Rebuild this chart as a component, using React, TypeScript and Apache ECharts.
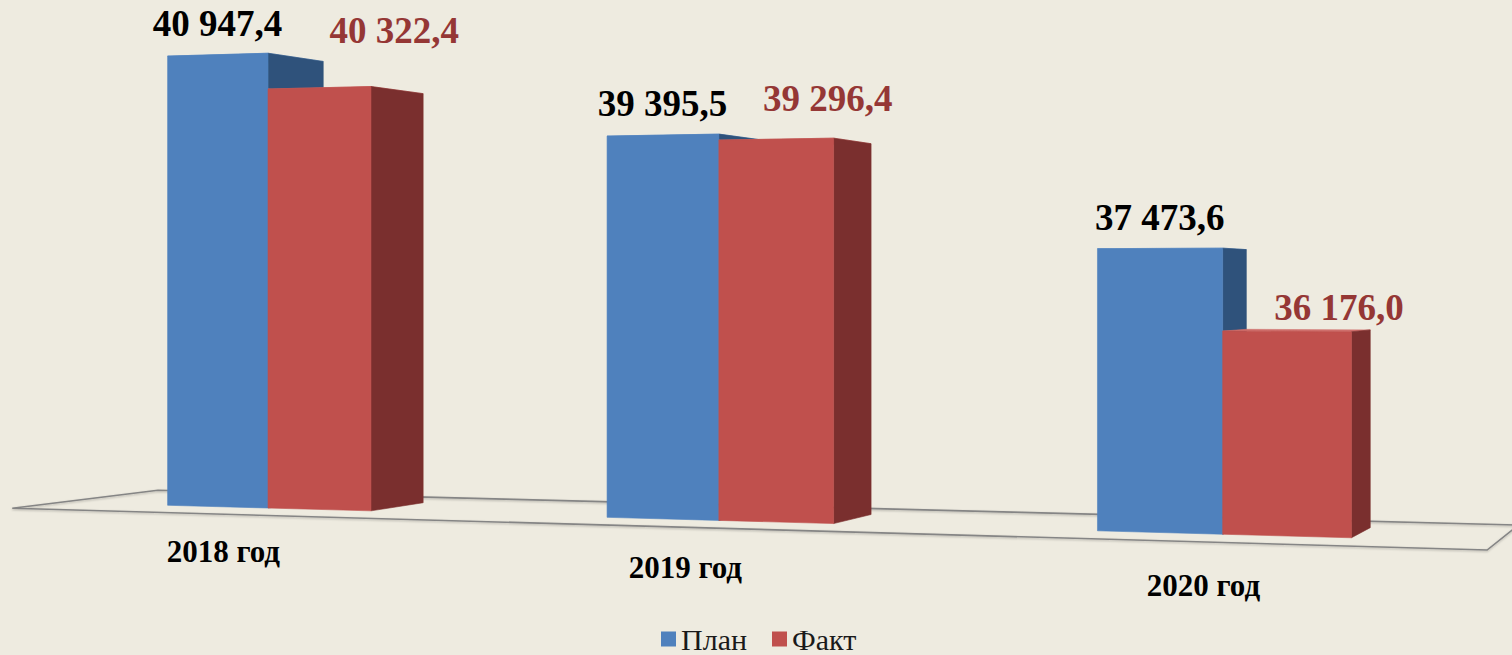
import React, { useEffect, useRef } from "react";
import * as echarts from "echarts";

// ---------- data ----------
const categories = ["2018 год", "2019 год", "2020 год"];
const planValues = [40947.4, 39395.5, 37473.6];
const factValues = [40322.4, 39296.4, 36176.0];
const legendNames = ["План", "Факт"];

// ---------- value axis range ----------
const Y_MIN = 33000;
const Y_MAX = 42000;

// ---------- 3D scene (perspective) ----------
const U_START = -1.21;
const U_END = 12.89;
const V_PER_VALUE = 5.604e-4;
const BAR_FRAC = 0.238;
const BAR_DEPTH = 1.159;
const FLOOR_FRONT = -0.85;
const FLOOR_BACK = 1.9;
const CAT_V = -0.45;
const CAT_W = -0.88;
const F = 3027;
const CX = 756;
const HY = 285;
const ANG = (19.37 * Math.PI) / 180;
const X0 = -5.854;
const Z0 = 30.02;
const EYE_H = 2.184;

function project(u: number, v: number, w: number): number[] {
  const ca = Math.cos(ANG);
  const sa = Math.sin(ANG);
  const X = X0 + u * ca + w * sa;
  const Z = Z0 - u * sa + w * ca;
  const Y = v - EYE_H;
  return [CX + (F * X) / Z, HY - (F * Y) / Z];
}

const SERIF = "Liberation Serif, Times New Roman, serif";
const COLORS: any = {
  plan: { front: "#4F81BD", side: "#2F527B", top: "#6C96C9", label: "#000000" },
  fact: { front: "#C0504D", side: "#7A2F2E", top: "#CF6F6C", label: "#953735" },
};
const FACT_LABEL_SHIFT = [
  [75, -45],
  [52, -28.5],
  [52.5, -11.5],
];
const PLAN_LABEL_SHIFT = [0, -19];
const VALUE_FS = 37;
const CAT_FS = 31;

function fmt(v: number): string {
  const [i, d] = v.toFixed(1).split(".");
  return i.replace(/\B(?=(\d{3})+(?!\d))/g, " ") + "," + d;
}

function toU(px: number, cs: any): number {
  return U_START + ((px - cs.x) * (U_END - U_START)) / cs.width;
}

function makeBarRender(kind: "plan" | "fact") {
  return (params: any, api: any) => {
    const cs = params.coordSys;
    const ci = api.value(0);
    const val = api.value(1);
    const top = api.coord([ci, val]);
    const base = api.coord([ci, Y_MIN]);
    const band = api.size([1, 0])[0];
    const uPerPx = (U_END - U_START) / cs.width;
    const uc = toU(top[0], cs);
    const bw = band * uPerPx * BAR_FRAC;
    const v = ((base[1] - top[1]) * ((Y_MAX - Y_MIN) * V_PER_VALUE)) / cs.height;
    const u1 = kind === "plan" ? uc - bw : uc;
    const u2 = kind === "plan" ? uc : uc + bw;
    const d = BAR_DEPTH;
    const c = COLORS[kind];
    const poly = (pts: number[][], fill: string) => ({
      type: "polygon",
      shape: { points: pts },
      style: { fill, stroke: fill, lineWidth: 0.6 },
    });
    const topFace = [project(u1, v, 0), project(u2, v, 0), project(u2, v, d), project(u1, v, d)];
    const side = [project(u2, 0, 0), project(u2, 0, d), project(u2, v, d), project(u2, v, 0)];
    const front = [project(u1, 0, 0), project(u2, 0, 0), project(u2, v, 0), project(u1, v, 0)];
    const tc = project((u1 + u2) / 2, v, 0);
    const shift = kind === "plan" ? PLAN_LABEL_SHIFT : FACT_LABEL_SHIFT[params.dataIndex];
    return {
      type: "group",
      children: [
        poly(topFace, c.top),
        poly(side, c.side),
        poly(front, c.front),
        {
          type: "text",
          x: tc[0] + shift[0],
          y: tc[1] + shift[1] - VALUE_FS * 0.33,
          style: {
            text: fmt(val),
            fill: c.label,
            fontSize: VALUE_FS,
            fontWeight: "bold",
            fontFamily: SERIF,
            align: "center",
            verticalAlign: "middle",
          },
        },
      ],
    };
  };
}

function renderAxis(params: any, api: any) {
  const cs = params.coordSys;
  const ci = api.value(0);
  const p = api.coord([ci, Y_MIN]);
  const uc = toU(p[0], cs);
  const lp = project(uc, CAT_V, CAT_W);
  const children: any[] = [];
  if (params.dataIndex === 0) {
    const uL = toU(cs.x, cs);
    const uR = toU(cs.x + cs.width, cs);
    const pts = [
      project(uL, 0, FLOOR_FRONT),
      project(uR, 0, FLOOR_FRONT),
      project(uR, 0, FLOOR_BACK),
      project(uL, 0, FLOOR_BACK),
    ];
    children.push({
      type: "polygon",
      shape: { points: pts },
      style: {
        fill: "none",
        stroke: "#858585",
        lineWidth: 1.6,
        shadowBlur: 2,
        shadowColor: "rgba(0,0,0,0.25)",
        shadowOffsetY: 1,
      },
    });
  }
  children.push({
    type: "text",
    x: lp[0],
    y: lp[1] - CAT_FS * 0.33,
    style: {
      text: categories[ci],
      fill: "#000000",
      fontSize: CAT_FS,
      fontWeight: "bold",
      fontFamily: SERIF,
      align: "center",
      verticalAlign: "middle",
    },
  });
  return { type: "group", children };
}

export default function App() {
  const ref = useRef<HTMLDivElement>(null);
  useEffect(() => {
    if (!ref.current) return;
    const chart = echarts.init(ref.current, undefined, { renderer: "svg" });
    chart.setOption({
      animation: false,
      backgroundColor: "#EEEBE0",
      grid: { left: 0, right: 0, top: 0, bottom: 0 },
      xAxis: { type: "category", data: categories, show: false, boundaryGap: true },
      yAxis: { type: "value", min: Y_MIN, max: Y_MAX, show: false },
      legend: {
        data: legendNames,
        left: 661,
        top: 624,
        padding: 0,
        icon: "rect",
        itemWidth: 15,
        itemHeight: 15,
        itemGap: 25,
        selectedMode: false,
        textStyle: {
          fontSize: 30,
          fontFamily: SERIF,
          color: "#1a1a1a",
        },
      },
      series: [
        {
          type: "custom",
          name: "floor",
          z: 1,
          renderItem: renderAxis,
          data: categories.map((_, i) => [i, Y_MIN]),
          silent: true,
        },
        {
          type: "custom",
          name: legendNames[0],
          z: 3,
          itemStyle: { color: COLORS.plan.front },
          renderItem: makeBarRender("plan"),
          data: planValues.map((v, i) => [i, v]),
        },
        {
          type: "custom",
          name: legendNames[1],
          z: 4,
          itemStyle: { color: COLORS.fact.front },
          renderItem: makeBarRender("fact"),
          data: factValues.map((v, i) => [i, v]),
        },
      ],
    });
    return () => chart.dispose();
  }, []);
  return (
    <div
      ref={ref}
      style={{ position: "fixed", left: 0, top: 0, width: 1512, height: 655 }}
    />
  );
}
